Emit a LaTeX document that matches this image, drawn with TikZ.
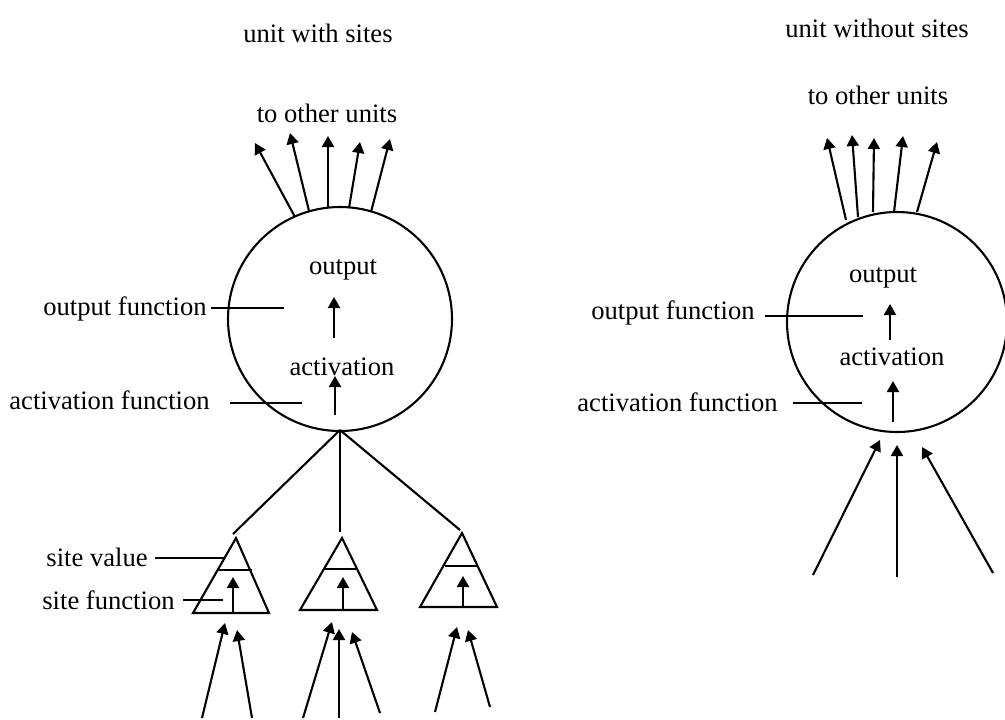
\documentclass[tikz,border=0pt]{standalone}
\usepackage{fontspec}
\setmainfont{Liberation Serif}
\usetikzlibrary{arrows.meta}
\begin{document}
\begin{tikzpicture}[x=0.5pt,y=-0.5pt,
  every node/.style={font=\fontsize{13.3}{16}\selectfont, inner sep=0pt},
  ln/.style={line width=1.05pt},
  arr/.style={line width=1.05pt,-{Triangle[length=5.5pt,width=6pt]}},
  unit/.style={circle,draw,line width=1.05pt}]
\useasboundingbox (0,0) rectangle (1005,719);
% ---------- left: unit with sites ----------
\node (t1) at (318,33) {unit with sites};
\node (o1) at (327,113) {to other units};
\node[unit,minimum size=112pt] (c1) at (340,319) {};
\node (out1) at (343,270) {output};
\node (act1) at (342,367) {activation};
\draw[arr] (334,338) -- (334,297);
\draw[arr] (335,415) -- (335,376);
% outputs
\foreach \s/\e in {{295,217}/{255,143},{309,211}/{290,133},{328,208}/{328,136},{349,208}/{360,142},{371,212}/{390,139}}
  \draw[arr] (\s) -- (\e);
% labels
\node[anchor=east] (of1) at (207,309) {output function};
\coordinate (of1a) at (211,308);
\coordinate (of1b) at (284,308);
\draw[ln] (of1a) -- (of1b);
\node[anchor=east] (af1) at (210,400) {activation function};
\coordinate (af1a) at (230,403);
\coordinate (af1b) at (302,403);
\draw[ln] (af1a) -- (af1b);
% hub
\coordinate (hub) at (340,430);
\coordinate (s1) at (233,534);
\coordinate (s2) at (340,532);
\coordinate (s3) at (460,530);
\draw[ln] (hub) -- (s1);
\draw[ln] (hub) -- (s2);
\draw[ln] (hub) -- (s3);
% triangles
\draw[ln] (236,538) -- (193,613) -- (269,613) -- cycle;
\draw[ln] (217,570) -- (252,570);
\draw[arr] (233,613) -- (233,577);
\draw[ln] (342,538) -- (300,610) -- (377,610) -- cycle;
\draw[ln] (323,569) -- (357,569);
\draw[arr] (343,610) -- (343,577);
\draw[ln] (462,533) -- (420,607) -- (497,607) -- cycle;
\draw[ln] (445,566) -- (477,566);
\draw[arr] (463,607) -- (463,576);
% site labels
\node[anchor=east] (sv) at (148,557) {site value};
\coordinate (sva) at (155,558);
\coordinate (svb) at (224,558);
\draw[ln] (sva) -- (svb);
\node[anchor=east] (sf) at (175,600) {site function};
\coordinate (sfa) at (183,600);
\coordinate (sfb) at (223,600);
\draw[ln] (sfa) -- (sfb);
% inputs
\foreach \s/\e in {{202,718}/{225,623},{252,718}/{237,630},{303,718}/{332,622},{339,718}/{339,629},{380,713}/{352,632},{435,712}/{457,627},{490,707}/{468,630}}
  \draw[arr] (\s) -- (\e);
% ---------- right: unit without sites ----------
\node (t2) at (877,28) {unit without sites};
\node (o2) at (878,95) {to other units};
\node[unit,minimum size=110pt] (c2) at (897,322) {};
\node (out2) at (883,278) {output};
\node (act2) at (892,357) {activation};
\draw[arr] (890,340) -- (890,304);
\draw[arr] (893,422) -- (893,381);
\foreach \s/\e in {{846,220}/{827,138},{858,217}/{852,135},{873,212}/{874,138},{894,212}/{903,136},{917,212}/{937,142}}
  \draw[arr] (\s) -- (\e);
\node[anchor=east] (of2) at (755,313) {output function};
\coordinate (of2a) at (765,316);
\coordinate (of2b) at (863,316);
\draw[ln] (of2a) -- (of2b);
\node[anchor=east] (af2) at (778,402) {activation function};
\coordinate (af2a) at (793,403);
\coordinate (af2b) at (862,403);
\draw[ln] (af2a) -- (af2b);
\foreach \s/\e in {{813,575}/{880,440},{897,577}/{897,445},{993,573}/{922,447}}
  \draw[arr] (\s) -- (\e);
\end{tikzpicture}
\end{document}
